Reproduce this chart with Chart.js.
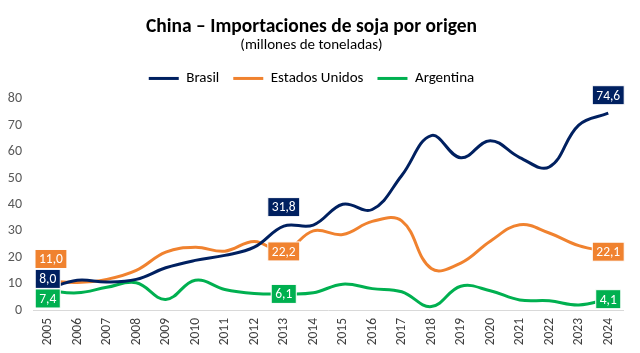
<!DOCTYPE html>
<html>
<head>
<meta charset="utf-8">
<script src="https://cdn.jsdelivr.net/npm/chart.js@4"></script>
<style>
  html, body { margin: 0; padding: 0; background: #fff; }
  #wrap { width: 640px; height: 353px; }
</style>
</head>
<body>
<div id="wrap"><canvas id="chart" width="640" height="353"></canvas></div>
<script>
// DATA
const years = ["2005","2006","2007","2008","2009","2010","2011","2012","2013","2014",
               "2015","2016","2017","2018","2019","2020","2021","2022","2023","2024"];
const brasil = [8.0, 11.3, 10.6, 11.6, 16.0, 18.8, 20.7, 23.8, 31.8, 32.2,
                40.1, 38.1, 51.0, 66.1, 57.7, 64.2, 57.8, 54.2, 70.1, 74.6];
const estadosUnidos = [11.0, 10.4, 11.6, 15.0, 21.9, 23.8, 22.3, 26.0, 22.2, 30.0,
                       28.6, 33.6, 33.8, 15.7, 17.8, 26.1, 32.3, 29.2, 24.4, 22.1];
const argentina = [7.4, 6.5, 8.6, 10.3, 4.0, 11.3, 7.8, 6.3, 6.1, 6.5,
                   9.8, 8.1, 6.9, 1.3, 9.0, 7.3, 3.8, 3.5, 1.9, 4.1];
const yTicks = [0, 10, 20, 30, 40, 50, 60, 70, 80];

// COLORS
const colBrasil = "#002060";
const colEEUU = "#F0822F";
const colArg = "#00B050";

const FONT = "Carlito, Calibri, Lato, sans-serif";

// WHICH POINTS GET A VALUE BOX (dataset, index, vertical shift)
const valueLabels = [
  { ds: 0, i: 0, dy: -10 }, { ds: 0, i: 8, dy: -19 }, { ds: 0, i: 19, dy: -18 },
  { ds: 1, i: 0, dy: -22 }, { ds: 1, i: 8, dy: 0 },  { ds: 1, i: 19, dy: 0 },
  { ds: 2, i: 0, dy: 8 },   { ds: 2, i: 8, dy: 0 },   { ds: 2, i: 19, dy: 0 }
];

function fmt(v){
  return v.toFixed(1).replace(".", ",");
}

// DRAW THE BOXED VALUE LABELS
const boxLabels = {
  id: "boxLabels",
  afterDatasetsDraw(chart){
    const ctx = chart.ctx;
    const area = chart.chartArea;
    ctx.save();
    ctx.font = "13.5px " + FONT;
    ctx.textAlign = "center";
    ctx.textBaseline = "middle";
    valueLabels.forEach(l => {
      const ds = chart.data.datasets[l.ds];
      const pt = chart.getDatasetMeta(l.ds).data[l.i];
      const txt = fmt(ds.data[l.i]);
      const w = ctx.measureText(txt).width + 8;
      const h = 19;
      let cx = pt.x;
      if (cx - w / 2 < area.left + 2) cx = area.left + 2 + w / 2;
      const cy = pt.y + l.dy;
      ctx.fillStyle = ds.borderColor;
      ctx.fillRect(cx - w / 2, cy - h / 2, w, h);
      ctx.strokeStyle = "#ffffff";
      ctx.lineWidth = 1;
      ctx.strokeRect(cx - w / 2, cy - h / 2, w, h);
      ctx.fillStyle = "#ffffff";
      ctx.fillText(txt, cx, cy + 1);
    });
    ctx.restore();
  }
};

// A LITTLE MORE ROOM UNDER THE LEGEND
const legendGap = {
  id: "legendGap",
  beforeInit(chart){
    const fit = chart.legend.fit;
    chart.legend.fit = function(){
      fit.bind(chart.legend)();
      this.height += 3;
    };
  }
};

const ctx = document.getElementById("chart").getContext("2d");

new Chart(ctx, {
  type: "line",
  data: {
    labels: years,
    datasets: [
      { label: "Brasil", data: brasil, borderColor: colBrasil, backgroundColor: colBrasil },
      { label: "Estados Unidos", data: estadosUnidos, borderColor: colEEUU, backgroundColor: colEEUU },
      { label: "Argentina", data: argentina, borderColor: colArg, backgroundColor: colArg }
    ]
  },
  options: {
    responsive: false,
    animation: false,
    layout: { padding: { left: 0, right: 17, top: 0, bottom: 0 } },
    elements: {
      line: { borderWidth: 3, tension: 0.4, fill: false },
      point: { radius: 0, hoverRadius: 0 }
    },
    plugins: {
      title: {
        display: true,
        text: "China – Importaciones de soja por origen",
        color: "#000000",
        font: { family: FONT, size: 19.5, weight: "bold", lineHeight: 1.1 },
        padding: { top: 16, bottom: 0 }
      },
      subtitle: {
        display: true,
        text: "(millones de toneladas)",
        color: "#000000",
        font: { family: FONT, size: 15, lineHeight: 1.1 },
        padding: { top: 0, bottom: 3 }
      },
      legend: {
        display: true,
        position: "top",
        labels: {
          color: "#000000",
          font: { family: FONT, size: 15 },
          boxWidth: 30,
          boxHeight: 3,
          padding: 14,
          generateLabels(chart){
            return Chart.defaults.plugins.legend.labels.generateLabels(chart)
              .map(l => Object.assign(l, { lineWidth: 0 }));
          }
        }
      },
      tooltip: { enabled: false }
    },
    scales: {
      x: {
        offset: true,
        grid: { display: false, drawTicks: false },
        border: { display: true, color: "#d9d9d9", width: 1 },
        ticks: {
          color: "#404040",
          font: { family: FONT, size: 13.5 },
          minRotation: 90,
          maxRotation: 90,
          autoSkip: false,
          padding: 8
        },
        afterFit(scale){ scale.height = 43; }
      },
      y: {
        min: 0,
        max: 80,
        afterBuildTicks(scale){ scale.ticks = yTicks.map(v => ({ value: v })); },
        grid: { display: false, drawTicks: false },
        border: { display: false },
        ticks: {
          color: "#595959",
          font: { family: FONT, size: 14 },
          padding: 11
        },
        afterFit(scale){ scale.width = 33; }
      }
    }
  },
  plugins: [boxLabels, legendGap]
});
</script>
</body>
</html>
